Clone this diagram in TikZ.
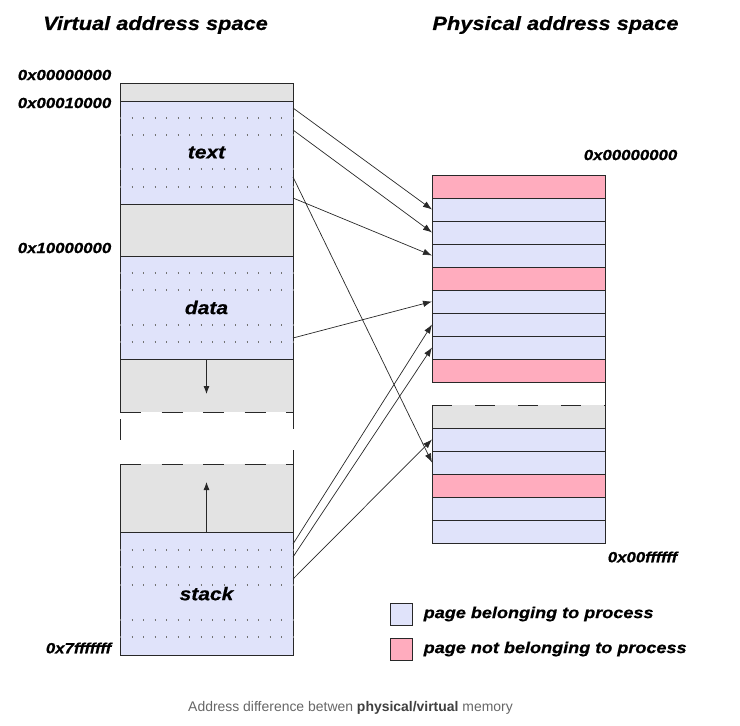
\documentclass[tikz,border=0pt]{standalone}
\usepackage{fontspec}
\setmainfont{Liberation Sans}
\newfontfamily\figfont[FakeStretch=1.14, FakeBold=0.6]{Liberation Sans}
\usetikzlibrary{arrows.meta, positioning}
\definecolor{mine}{RGB}{224,227,250}
\definecolor{notmine}{RGB}{255,172,190}
\definecolor{unused}{RGB}{227,227,227}
\definecolor{edge}{RGB}{40,40,40}

\begin{document}
\begin{tikzpicture}[
  x=1bp, y=-1bp, line width=0.8bp,
  node distance=0pt,
  seg/.style={minimum width=173bp, inner sep=0pt, outer sep=0pt, font=\figfont\bfseries\itshape\fontsize{18.5}{18.5}\selectfont},
  used/.style={seg, draw=edge, fill=mine},
  free/.style={seg, fill=unused},
  page/.style={draw=edge, minimum width=173bp, minimum height=23bp, inner sep=0pt, outer sep=0pt, anchor=north west},
  addr/.style={anchor=east, font=\figfont\bfseries\itshape\fontsize{14.8}{14.8}\selectfont},
  title/.style={font=\figfont\bfseries\itshape\fontsize{19.2}{19.2}\selectfont},
  keybox/.style={draw=edge, minimum size=22bp, inner sep=0pt, outer sep=0pt, anchor=north west},
  keytext/.style={anchor=west, font=\figfont\bfseries\itshape\fontsize{15.9}{15.9}\selectfont},
  dotrow/.style={black!55, line width=1.2bp, dash pattern=on 1.2bp off 10.3bp},
  gapline/.style={edge, dash pattern=on 21bp off 20.5bp},
  arrow/.style={-{Latex[length=9bp, width=6.5bp]}, edge, line width=0.7bp},
  growarrow/.style={-{Latex[length=8bp, width=6bp]}, edge}
]
\useasboundingbox (0,0) rectangle (740,726);

% virtual address space
\node[title] (vtitle) at (155.5,25) {Virtual address space};
\node[seg, draw=edge, fill=unused, minimum height=18bp, anchor=north] (vtop) at (206.5,83) {};
\node[used, minimum height=103bp, below=of vtop] (vtext) {text};
\node[free, draw=edge, minimum height=52bp, below=of vtext] (vgap) {};
\node[used, minimum height=103bp, below=of vgap] (vdata) {data};
\node[free, minimum height=53bp, below=of vdata] (vheap) {};
\node[seg, minimum height=52bp, below=of vheap] (vhole) {};
\node[free, minimum height=68bp, below=of vhole] (vgrow) {};
\node[used, minimum height=123bp, below=of vgrow, text depth=-5bp] (vstack) {stack};

\foreach \y in {118,135,169,187,273,290,325,342,550,567,585,620,637}
  \draw[dotrow] (120,\y) -- (293,\y);

\draw[edge] (vheap.north west) -- (vheap.north east);
\draw[edge] (vheap.north west) -- (vheap.south west) (vheap.north east) -- (vheap.south east);
\draw[edge] (vgrow.north west) -- (vgrow.south west) (vgrow.north east) -- (vgrow.south east);
\draw[gapline] (vheap.south west) -- (vheap.south east);
\draw[gapline] (vgrow.north west) -- (vgrow.north east);
\draw[edge, dash pattern=on 21bp off 31bp, dash phase=45bp] (vhole.north west) -- (vhole.south west);
\draw[edge, dash pattern=on 17bp off 21bp on 14bp off 10bp] (vhole.north east) -- (vhole.south east);

\coordinate (heapend) at (206.5,394);
\coordinate (stackend) at (206.5,482);
\draw[growarrow] (vheap.north) -- (heapend);
\draw[growarrow] (vstack.north) -- (stackend);

\node[addr] (a0) at (115,75) {0x00000000};
\node[addr] (a1) at (115,103) {0x00010000};
\node[addr] (a2) at (115,248) {0x10000000};
\node[addr] (a3) at (115,648) {0x7fffffff};

% physical address space
\node[title] (ptitle) at (555.5,25) {Physical address space};
\foreach \c [count=\i] in {notmine,mine,mine,mine,notmine,mine,mine,mine,notmine}
  \node[page, fill=\c] (p\i) at (432,{175+23*(\i-1)}) {};
\node[page, fill=unused, draw=none] (q1) at (432,405) {};
\foreach \c [count=\i from 2] in {mine,mine,notmine,mine,mine}
  \node[page, fill=\c] (q\i) at (432,{405+23*(\i-1)}) {};
\draw[edge] (p9.south east) -- (q1.south east);
\draw[edge] (q1.north west) -- (q1.south west);
\draw[edge, dash pattern=on 20bp off 23bp] (q1.north west) -- (q1.north east);

\node[addr] (pa0) at (681,155) {0x00000000};
\node[addr] (pa1) at (681,557) {0x00ffffff};

% page mapping
\coordinate (t1) at (293,108);
\coordinate (t2) at (293,130);
\coordinate (t3) at (293,177);
\coordinate (t4) at (293,198);
\coordinate (d1) at (293,338);
\coordinate (s1) at (293,544);
\coordinate (s2) at (293,557);
\coordinate (s3) at (293,579);
\draw[arrow] (t1) -- (p2.west);
\draw[arrow] (t2) -- (p3.west);
\draw[arrow] (t3) -- (q3.west);
\draw[arrow] (t4) -- (p4.west);
\draw[arrow] (d1) -- (p6.west);
\draw[arrow] (s1) -- (p7.west);
\draw[arrow] (s2) -- (p8.west);
\draw[arrow] (s3) -- (q2.west);

% legend
\node[keybox, fill=mine] (k1) at (390,603) {};
\node[keytext, right=8bp of k1] (k1t) {page belonging to process};
\node[keybox, fill=notmine] (k2) at (390,638) {};
\node[keytext, right=8bp of k2] (k2t) {page not belonging to process};

\node[font=\fontsize{14}{14}\selectfont, text=black!60] (caption) at (350.5,708)
  {Address difference betwen \textbf{\color{black!75}physical/virtual} memory};
\end{tikzpicture}
\end{document}
